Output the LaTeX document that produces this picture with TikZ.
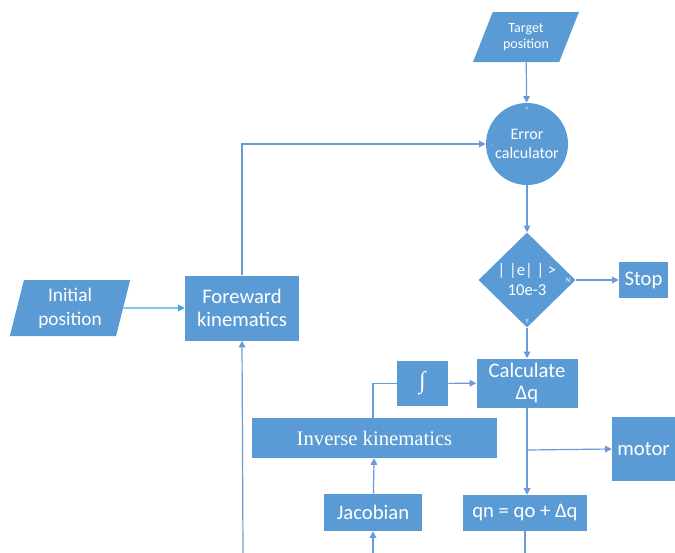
\documentclass[tikz,border=0pt]{standalone}
\usepackage{fontspec}
\setmainfont{Carlito}
\newfontfamily\serifface{Liberation Serif}
\usetikzlibrary{arrows.meta, shapes.geometric}

\definecolor{boxblue}{HTML}{5B9BD5}
\definecolor{lineblue}{HTML}{6A9BD8}
\definecolor{inblue}{HTML}{3DA8E2}

\begin{document}
\begin{tikzpicture}[x=0.75pt, y=-0.75pt, >={Triangle[length=5pt, width=5pt]},
    block/.style={rectangle, fill=boxblue, text=white, inner sep=0pt, font=\fontsize{15.5}{17}\selectfont, align=center},
    io/.style={trapezium, trapezium stretches=true, fill=boxblue, text=white, inner sep=0pt, align=center},
    flow/.style={->, lineblue, line width=0.9pt},
    tag/.style={text=white, font=\fontsize{5}{5}\selectfont, inner sep=0pt}
]
\useasboundingbox (0,0) rectangle (675,553);

% Inputs
\node[io, trapezium left angle=63.4, trapezium right angle=116.6, minimum width=79.5pt, minimum height=37.5pt,
      font=\fontsize{10.5}{12}\selectfont] (target) at (526,37) {Target\\position};
\node[io, trapezium left angle=76.5, trapezium right angle=103.5, minimum width=90.75pt, minimum height=42pt,
      font=\fontsize{14.5}{18}\selectfont] (initial) at (70,308) {Initial\\position};

% Error check
\node[circle, fill=boxblue, text=white, minimum size=61.5pt, inner sep=0pt, align=center,
      font=\fontsize{12}{14.5}\selectfont] (error) at (527,144) {Error\\calculator};
\node[diamond, fill=boxblue, text=white, minimum width=72.75pt, minimum height=71.25pt, inner sep=0pt, align=center,
      font=\fontsize{12.5}{15}\selectfont] (check) at (527,280) {| |e| | >\\10e-3};
\node[block, minimum width=36.75pt, minimum height=27pt] (stop) at (643.5,280) {Stop};

% Kinematics loop
\node[block, minimum width=85.5pt, minimum height=48.75pt] (forward) at (242,308) {Foreward\\kinematics};
\node[block, minimum width=75.75pt, minimum height=36.75pt] (calc) at (527,383) {Calculate\\Δq};
\node[block, minimum width=38.25pt, minimum height=33.75pt, font=\serifface\fontsize{18}{18}\selectfont] (integ) at (422.5,383.5) {∫};
\node[block, minimum width=183.75pt, minimum height=30pt, font=\serifface\fontsize{15.5}{17}\selectfont] (inverse) at (374.5,438) {Inverse kinematics};
\node[block, minimum width=73.5pt, minimum height=27.75pt] (jacobian) at (373,512.5) {Jacobian};
\node[block, minimum width=93pt, minimum height=27pt] (update) at (525,513) {qn = qo + Δq};
\node[block, minimum width=47.25pt, minimum height=48pt] (motor) at (643.5,449) {motor};

% Small signs at the ports
\node[tag] (plus) at (527,109) {+};
\node[tag] (minus) at (492,146) {-};
\node[tag] (no) at (568,280) {N};
\node[tag] (yes) at (527,321) {Y};

% Free ends at the lower edge
\coordinate (fbottom) at (243,553);
\coordinate (jbottom) at (373,553);
\coordinate (ubottom) at (525,553);
\coordinate (tap) at (527,450);

% Connectors
\draw[flow] (target) -- (error);
\draw[flow] (error) -- (check);
\draw[flow] (check) -- (stop);
\draw[flow] (check) -- (calc);
\draw[flow, inblue] (initial.east) -- (forward.west);
\draw[flow] (forward.north) |- (error.west);
\draw[flow] (fbottom) -- (forward.south);
\draw[flow] (jbottom) -- (jacobian.south);
\draw[flow] (jacobian) -- (inverse);
\draw[lineblue, line width=0.9pt] (inverse.north -| jacobian) |- (integ.west);
\draw[flow] (integ) -- (calc);
\draw[flow] (calc.south) -- (update.north -| calc.south);
\draw[flow] (tap) -- (motor.west);
\draw[lineblue, line width=0.9pt] (update.south) -- (ubottom);

\end{tikzpicture}
\end{document}
